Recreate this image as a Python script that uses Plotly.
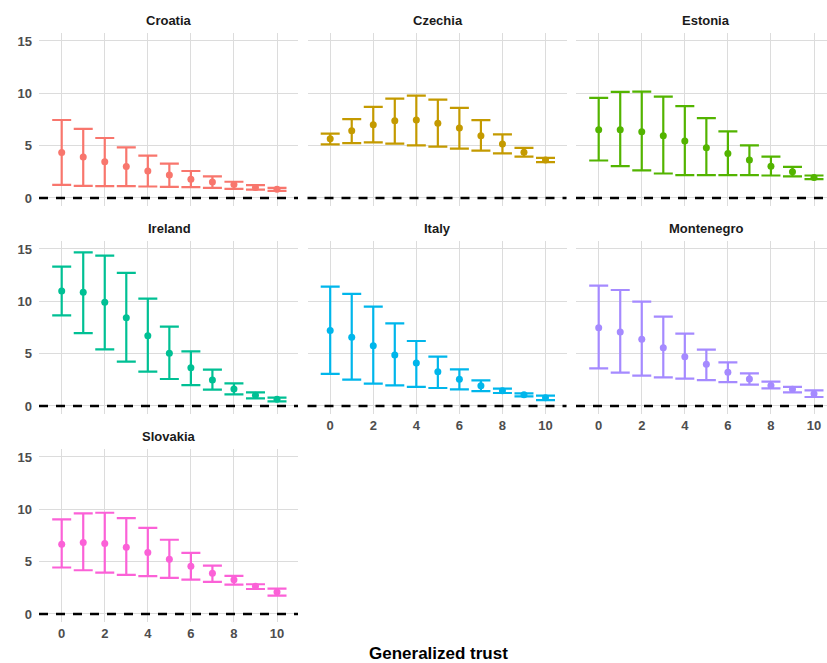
import plotly.graph_objects as go

trust = [0, 1, 2, 3, 4, 5, 6, 7, 8, 9, 10]

countries = ["Croatia", "Czechia", "Estonia", "Ireland", "Italy", "Montenegro", "Slovakia"]
colors = ["#F8766D", "#C49A00", "#53B400", "#00C094", "#00B6EB", "#A58AFF", "#FB61D7"]

croatia_mean = [4.34, 3.92, 3.47, 3.02, 2.58, 2.2, 1.8, 1.52, 1.29, 1.0, 0.84]
croatia_low = [1.26, 1.16, 1.13, 1.13, 1.1, 1.06, 1.03, 0.97, 0.87, 0.8, 0.68]
croatia_high = [7.45, 6.6, 5.73, 4.84, 4.05, 3.28, 2.58, 2.06, 1.55, 1.23, 0.97]

czechia_mean = [5.66, 6.42, 6.99, 7.37, 7.44, 7.15, 6.68, 5.95, 5.16, 4.37, 3.64]
czechia_low = [5.13, 5.25, 5.32, 5.19, 5.03, 4.91, 4.72, 4.53, 4.27, 3.96, 3.42]
czechia_high = [6.14, 7.53, 8.7, 9.49, 9.78, 9.4, 8.61, 7.44, 6.08, 4.78, 3.83]

estonia_mean = [6.52, 6.52, 6.33, 5.95, 5.44, 4.81, 4.24, 3.64, 3.04, 2.5, 1.97]
estonia_low = [3.58, 3.04, 2.63, 2.34, 2.18, 2.18, 2.18, 2.18, 2.15, 2.06, 1.8]
estonia_high = [9.56, 10.13, 10.16, 9.68, 8.77, 7.63, 6.36, 5.03, 3.96, 2.97, 2.15]

ireland_mean = [10.99, 10.86, 9.9, 8.44, 6.72, 5.03, 3.66, 2.48, 1.62, 1.02, 0.64]
ireland_low = [8.66, 6.97, 5.41, 4.24, 3.28, 2.58, 2.0, 1.56, 1.11, 0.73, 0.45]
ireland_high = [13.31, 14.68, 14.36, 12.71, 10.25, 7.58, 5.22, 3.47, 2.17, 1.31, 0.8]

italy_mean = [7.2, 6.56, 5.76, 4.87, 4.11, 3.28, 2.55, 1.94, 1.46, 1.08, 0.8]
italy_low = [3.06, 2.52, 2.13, 1.97, 1.82, 1.72, 1.59, 1.43, 1.24, 0.92, 0.57]
italy_high = [11.4, 10.7, 9.49, 7.9, 6.21, 4.71, 3.5, 2.45, 1.66, 1.21, 0.99]

montenegro_mean = [7.48, 7.07, 6.37, 5.57, 4.71, 3.98, 3.22, 2.58, 1.97, 1.59, 1.18]
montenegro_low = [3.6, 3.18, 2.9, 2.74, 2.61, 2.48, 2.29, 2.04, 1.69, 1.31, 0.86]
montenegro_high = [11.5, 11.08, 9.97, 8.54, 6.91, 5.38, 4.17, 3.12, 2.32, 1.82, 1.5]

slovakia_mean = [6.67, 6.83, 6.73, 6.38, 5.87, 5.23, 4.56, 3.89, 3.26, 2.65, 2.11]
slovakia_low = [4.44, 4.18, 3.96, 3.73, 3.61, 3.45, 3.29, 3.06, 2.81, 2.39, 1.76]
slovakia_high = [9.03, 9.61, 9.67, 9.16, 8.23, 7.09, 5.84, 4.63, 3.64, 2.84, 2.43]

x_ticks = [0, 2, 4, 6, 8, 10]
y_ticks = [0, 5, 10, 15]
x_title = "Generalized trust"

series = {
    "Croatia": (croatia_mean, croatia_low, croatia_high),
    "Czechia": (czechia_mean, czechia_low, czechia_high),
    "Estonia": (estonia_mean, estonia_low, estonia_high),
    "Ireland": (ireland_mean, ireland_low, ireland_high),
    "Italy": (italy_mean, italy_low, italy_high),
    "Montenegro": (montenegro_mean, montenegro_low, montenegro_high),
    "Slovakia": (slovakia_mean, slovakia_low, slovakia_high),
}

# page body margin is removed by post_script, so figure px == screen px
OFF = 0
W, H = 827, 663

col_px = [(39, 298), (307.5, 566.5), (576, 827)]
zero_px = [61.7, 330.2, 598.7]
pxu = 21.53
col_ranges = [[(l - z) / pxu, (r - z) / pxu] for (l, r), z in zip(col_px, zero_px)]
col_centers = [169, 437.5, 706]

ypxu = 10.47
yr = [-0.75, 15.75]
row_zero = [198, 406, 614]


def fx(px):
    return (px - OFF) / W


def fy(px):
    return 1 - (px - OFF) / H


FONT = "Liberation Sans, Arial, Helvetica, sans-serif"
grid = "#DCDCDC"

fig = go.Figure()
layout = {}
annotations = []
shapes = []

for i, c in enumerate(countries):
    row, col = divmod(i, 3)
    n = i + 1
    xa = "x" if n == 1 else f"x{n}"
    ya = "y" if n == 1 else f"y{n}"
    mean, low, high = series[c]
    fig.add_trace(go.Scatter(
        x=trust, y=mean, mode="markers",
        marker=dict(color=colors[i], size=7),
        error_y=dict(type="data", symmetric=False,
                     array=[h - m for h, m in zip(high, mean)],
                     arrayminus=[m - lo for m, lo in zip(mean, low)],
                     color=colors[i], thickness=2.2, width=9.5),
        xaxis=xa, yaxis=ya, showlegend=False, cliponaxis=False,
    ))
    l, r = col_px[col]
    z = row_zero[row]
    top = z - yr[1] * ypxu
    bot = z - yr[0] * ypxu
    show_x = c in ("Slovakia", "Italy", "Montenegro")
    show_y = col == 0
    layout["xaxis" if n == 1 else f"xaxis{n}"] = dict(
        domain=[fx(l), min(1.0, fx(r))], range=col_ranges[col], anchor=ya,
        tickvals=x_ticks, showticklabels=show_x, showgrid=True, gridcolor=grid,
        gridwidth=1, zeroline=False, showline=False, ticks="",
        tickfont=dict(family=FONT, size=13, color="#4D4D4D", weight="bold"),
        ticklabelstandoff=2, fixedrange=True,
    )
    layout["yaxis" if n == 1 else f"yaxis{n}"] = dict(
        domain=[fy(bot), fy(top)], range=yr, anchor=xa,
        tickvals=y_ticks, showticklabels=show_y, showgrid=True, gridcolor=grid,
        gridwidth=1, zeroline=False, showline=False, ticks="",
        tickfont=dict(family=FONT, size=13, color="#4D4D4D", weight="bold"),
        ticklabelstandoff=6, fixedrange=True,
    )
    shapes.append(dict(type="line", xref="paper", yref=ya,
                       x0=fx(l), x1=min(1.0, fx(r)), y0=0, y1=0, layer="above",
                       line=dict(color="black", width=2.6, dash="9px,8px")))
    annotations.append(dict(text=f"<b>{c}</b>", x=fx(col_centers[col]),
                            y=fy(top - 13), xref="paper", yref="paper",
                            showarrow=False, xanchor="center", yanchor="middle",
                            font=dict(family=FONT, size=13, color="#1A1A1A")))

annotations.append(dict(text=f"<b>{x_title}</b>", x=fx(438), y=fy(653),
                        xref="paper", yref="paper", showarrow=False,
                        xanchor="center", yanchor="middle",
                        font=dict(family=FONT, size=17, color="black")))

fig.update_layout(**layout)
fig.update_layout(
    width=W, height=H, margin=dict(l=0, r=0, t=0, b=0),
    paper_bgcolor="white", plot_bgcolor="white",
    annotations=annotations, shapes=shapes, showlegend=False,
    hovermode=False,
)
fig.write_html(
    "out.html",
    config={"displayModeBar": False, "staticPlot": True},
    post_script="document.documentElement.style.overflow='hidden';"
                "document.body.style.margin='0';document.body.style.overflow='hidden';",
)
